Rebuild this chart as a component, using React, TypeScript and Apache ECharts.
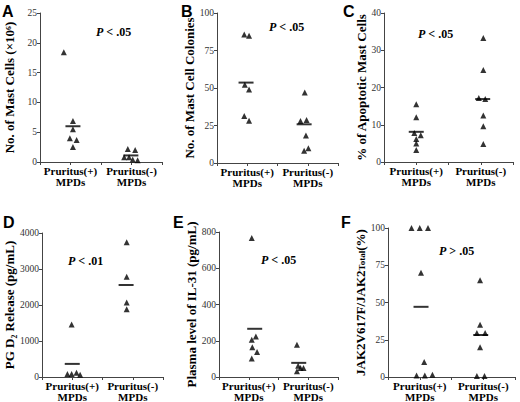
import React, { useEffect, useRef } from 'react';
import * as echarts from 'echarts';

// ---------- data ----------
const groupLabels = ['Pruritus(+)\nMPDs', 'Pruritus(-)\nMPDs'];
const panelLetters = ['A', 'B', 'C', 'D', 'E', 'F'];
const pLabels = ['< .05', '< .05', '< .05', '< .01', '< .05', '> .05'];
const pSign = ['P', 'P', 'P', 'P', 'P', 'P'];

const yNames = [
  'No. of Mast Cells (×10⁶)',
  'No. of Mast Cell Colonies',
  '% of Apoptotic Mast Cells',
  'PG D₂ Release (pg/mL)',
  'Plasma level of IL-31 (pg/mL)',
  'JAK2V617F/JAK2{sub|Total}(%)',
];
const yMax = [25, 100, 40, 4000, 800, 100];
const yInterval = [5, 25, 10, 1000, 200, 25];

// Panel A
const aPlus = [18.4, 6.9, 5.5, 4.0, 3.7, 2.5];
const aPlusX = [0.89, 1.04, 1.04, 0.99, 1.1, 1.04];
const aMinus = [2.2, 2.0, 0.8, 0.8, 0.4, 0.3];
const aMinusX = [1.94, 2.06, 1.88, 1.96, 2.02, 2.1];
const aMeans = [6.0, 1.1];
const aMeanX = [1.04, 1.99];

// Panel B
const bPlus = [85.6, 84.9, 52.2, 49.0, 31.3, 28.2];
const bPlusX = [0.95, 1.03, 0.96, 1.03, 0.95, 1.03];
const bMinus = [47, 28, 28.7, 18.3, 8.2, 9.9];
const bMinusX = [1.95, 1.88, 1.98, 1.97, 1.94, 2.01];
const bMeans = [53.6, 25.8];
const bMeanX = [0.98, 1.94];

// Panel C
const cPlus = [15.5, 12.0, 7.8, 7.2, 6.2, 5.0, 3.2];
const cPlusX = [1.0, 1.0, 0.97, 1.07, 1.0, 1.0, 1.0];
const cMinus = [33.3, 24.7, 17.2, 16.9, 12.5, 9.6, 4.8];
const cMinusX = [2.04, 2.04, 1.97, 2.07, 2.04, 2.04, 2.04];
const cMeans = [8.1, 16.9];
const cMeanX = [1.0, 2.03];

// Panel D
const dPlus = [1460, 80, 80, 117, 63];
const dPlusX = [0.99, 0.92, 0.99, 1.07, 1.13];
const dMinus = [3743, 2786, 2069, 1885];
const dMinusX = [1.9, 1.9, 1.9, 1.9];
const dMeans = [364, 2556];
const dMeanX = [1.0, 1.89];

// Panel E
const ePlus = [767, 224, 206, 164, 138, 102];
const ePlusX = [1.05, 1.12, 1.05, 1.06, 1.14, 1.05];
const eMinus = [178, 62, 50, 50, 32];
const eMinusX = [1.81, 1.83, 1.87, 1.92, 1.81];
const eMeans = [266, 78];
const eMeanX = [1.1, 1.84];

// Panel F
const fPlus = [100, 100, 100, 70, 10, 1, 1, 1.5];
const fPlusX = [0.87, 1.0, 1.13, 1.02, 1.07, 0.95, 1.08, 1.2];
const fMinus = [65, 35, 29.5, 29.5, 20, 0.7, 0.7];
const fMinusX = [1.95, 1.95, 1.9, 2.03, 1.95, 1.9, 2.02];
const fMeans = [47.1, 28.2];
const fMeanX = [1.02, 1.96];

const panels = [
  { plus: aPlus, plusX: aPlusX, minus: aMinus, minusX: aMinusX, means: aMeans, meanX: aMeanX },
  { plus: bPlus, plusX: bPlusX, minus: bMinus, minusX: bMinusX, means: bMeans, meanX: bMeanX },
  { plus: cPlus, plusX: cPlusX, minus: cMinus, minusX: cMinusX, means: cMeans, meanX: cMeanX },
  { plus: dPlus, plusX: dPlusX, minus: dMinus, minusX: dMinusX, means: dMeans, meanX: dMeanX },
  { plus: ePlus, plusX: ePlusX, minus: eMinus, minusX: eMinusX, means: eMeans, meanX: eMeanX },
  { plus: fPlus, plusX: fPlusX, minus: fMinus, minusX: fMinusX, means: fMeans, meanX: fMeanX },
];

// ---------- layout ----------
const gridBoxes = [
  { left: 40, top: 13, width: 122, height: 149 },
  { left: 217, top: 13, width: 121, height: 150 },
  { left: 384, top: 13, width: 129, height: 149 },
  { left: 42, top: 233, width: 121, height: 145 },
  { left: 219, top: 232, width: 119, height: 146 },
  { left: 388, top: 228, width: 127, height: 150 },
];
const nameGaps = [24, 14, 13, 19, 16, 18];
const pPos = [
  [113, 33], [286, 28], [435, 35], [85, 262], [278, 261], [456, 252],
];
const letterPos = [
  [2, 3], [181, 3], [343, 3], [3, 214], [173, 214], [341, 214],
];

const SERIF = '"Liberation Serif", "Times New Roman", serif';
const SANS = '"Liberation Sans", Arial, sans-serif';

function buildOption() {
  const grid: any[] = [];
  const xAxis: any[] = [];
  const yAxis: any[] = [];
  const series: any[] = [];
  const graphic: any[] = [];

  panels.forEach((p, i) => {
    grid.push({ ...gridBoxes[i], containLabel: false });
    xAxis.push({
      gridIndex: i,
      type: 'value',
      min: 0.5,
      max: 2.5,
      interval: 0.5,
      splitLine: { show: false },
      axisLine: { show: true, lineStyle: { color: '#444', width: 1 } },
      axisTick: { show: true, length: 3, lineStyle: { color: '#444' } },
      axisLabel: {
        margin: 3,
        fontFamily: SERIF,
        fontWeight: 'bold',
        fontSize: 11,
        lineHeight: 11,
        color: '#000',
        formatter: (v: number) => (v === 1 ? groupLabels[0] : v === 2 ? groupLabels[1] : ''),
      },
    });
    yAxis.push({
      gridIndex: i,
      type: 'value',
      min: 0,
      max: yMax[i],
      interval: yInterval[i],
      name: yNames[i],
      nameLocation: 'middle',
      nameRotate: 90,
      nameGap: nameGaps[i],
      nameTextStyle: {
        fontFamily: SERIF,
        fontWeight: 'bold',
        fontSize: 13,
        color: '#000',
        rich: {
          sub: { fontFamily: SERIF, fontWeight: 'bold', fontSize: 9, color: '#000', verticalAlign: 'bottom', lineHeight: 10 },
        },
      },
      splitLine: { show: false },
      axisLine: { show: true, lineStyle: { color: '#444', width: 1 } },
      axisTick: { show: true, length: 3, lineStyle: { color: '#444' } },
      axisLabel: {
        margin: 3,
        fontFamily: SERIF,
        fontSize: 9.5,
        color: '#333',
        formatter: (v: number) => String(v),
      },
    });
    const pts = p.plus.map((v, k) => [p.plusX[k], v]).concat(p.minus.map((v, k) => [p.minusX[k], v]));
    series.push({
      type: 'scatter',
      xAxisIndex: i,
      yAxisIndex: i,
      symbol: 'triangle',
      symbolSize: 6,
      itemStyle: { color: '#000' },
      data: pts,
      clip: false,
    });
    series.push({
      type: 'scatter',
      xAxisIndex: i,
      yAxisIndex: i,
      symbol: 'rect',
      symbolSize: [15, 2],
      itemStyle: { color: '#000' },
      data: p.means.map((v, k) => [p.meanX[k], v]),
      clip: false,
    });
    graphic.push({
      type: 'text',
      left: pPos[i][0] - 17,
      top: pPos[i][1] - 7,
      style: {
        text: `{i|${pSign[i]}} ${pLabels[i]}`,
        font: `bold 12px ${SERIF}`,
        fill: '#000',
        rich: { i: { fontStyle: 'italic', fontWeight: 'bold', fontSize: 12, fontFamily: SERIF, fill: '#000' } },
      },
    });
    graphic.push({
      type: 'text',
      left: letterPos[i][0],
      top: letterPos[i][1],
      style: { text: panelLetters[i], font: `bold 16px ${SANS}`, fill: '#000' },
    });
  });

  return { animation: false, backgroundColor: '#fff', grid, xAxis, yAxis, series, graphic };
}

export default function App() {
  const ref = useRef<HTMLDivElement>(null);
  useEffect(() => {
    document.body.style.margin = '0';
    const chart = echarts.init(ref.current!, undefined, { renderer: 'svg' });
    chart.setOption(buildOption() as any);
    return () => chart.dispose();
  }, []);
  return <div ref={ref} style={{ width: 520, height: 402 }} />;
}
